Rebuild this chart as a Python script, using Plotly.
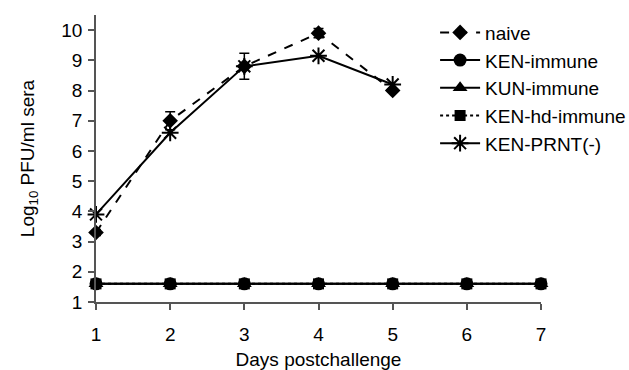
import plotly.graph_objects as go

days = [1, 2, 3, 4, 5, 6, 7]
naive_days = [1, 2, 3, 4, 5]
naive = [3.3, 7.0, 8.8, 9.9, 8.0]
naive_err = [0.1, 0.3, 0.43, 0.15, 0.05]
prnt_days = [1, 2, 3, 4, 5]
ken_prnt = [3.9, 6.6, 8.8, 9.15, 8.2]
ken_immune = [1.6, 1.6, 1.6, 1.6, 1.6, 1.6, 1.6]
kun_immune = [1.6, 1.6, 1.6, 1.6, 1.6, 1.6, 1.6]
ken_hd_immune = [1.6, 1.6, 1.6, 1.6, 1.6, 1.6, 1.6]

FONT = "Liberation Sans, Arial, sans-serif"
BLACK = "#000000"

fig = go.Figure()
fig.add_trace(go.Scatter(
    x=naive_days, y=naive, name="naive", mode="lines+markers",
    line=dict(color=BLACK, width=2, dash="dash"),
    marker=dict(symbol="diamond", size=12, color=BLACK),
    error_y=dict(type="data", array=naive_err, visible=True, color=BLACK, thickness=1.5, width=5),
    cliponaxis=False))
fig.add_trace(go.Scatter(
    x=days, y=ken_immune, name="KEN-immune", mode="lines+markers",
    line=dict(color=BLACK, width=2),
    marker=dict(symbol="circle", size=13, color=BLACK), cliponaxis=False))
fig.add_trace(go.Scatter(
    x=days, y=kun_immune, name="KUN-immune", mode="lines+markers",
    line=dict(color=BLACK, width=2),
    marker=dict(symbol="triangle-up", size=13, color=BLACK), cliponaxis=False))
fig.add_trace(go.Scatter(
    x=days, y=ken_hd_immune, name="KEN-hd-immune", mode="lines+markers",
    line=dict(color=BLACK, width=2, dash="dot"),
    marker=dict(symbol="square", size=11, color=BLACK), cliponaxis=False))
fig.add_trace(go.Scatter(
    x=prnt_days, y=ken_prnt, name="KEN-PRNT(-)", mode="lines+markers",
    line=dict(color=BLACK, width=2),
    marker=dict(symbol="asterisk-open", size=14, color=BLACK, line=dict(color=BLACK, width=2)),
    cliponaxis=False))

fig.update_layout(
    width=629, height=370,
    margin=dict(l=96, r=88, t=15, b=68, autoexpand=False),
    paper_bgcolor="white", plot_bgcolor="white",
    font=dict(family=FONT, size=19, color=BLACK),
    showlegend=True,
    legend=dict(x=0.762, y=1.005, xanchor="left", yanchor="top",
                font=dict(size=19, family=FONT), bgcolor="rgba(0,0,0,0)",
                tracegroupgap=0, itemwidth=40),
    xaxis=dict(range=[1, 7], tickvals=days, showgrid=False, zeroline=False,
               showline=True, linecolor="#555555", linewidth=1.5,
               ticks="outside", ticklen=6, tickcolor="#555555", tickwidth=1.5,
               tickfont=dict(size=19), ticklabelstandoff=8,
               title=dict(text="Days postchallenge", font=dict(size=19), standoff=10)),
    yaxis=dict(range=[1, 10.5], tickvals=[1, 2, 3, 4, 5, 6, 7, 8, 9, 10],
               showgrid=False, zeroline=False,
               showline=True, linecolor="#555555", linewidth=1.5,
               ticks="outside", ticklen=6, tickcolor="#555555", tickwidth=1.5,
               tickfont=dict(size=19), ticklabelstandoff=2,
               title=dict(text="Log<sub>10</sub> PFU/ml sera", font=dict(size=19), standoff=22)),
)

fig.write_html("out.html")
